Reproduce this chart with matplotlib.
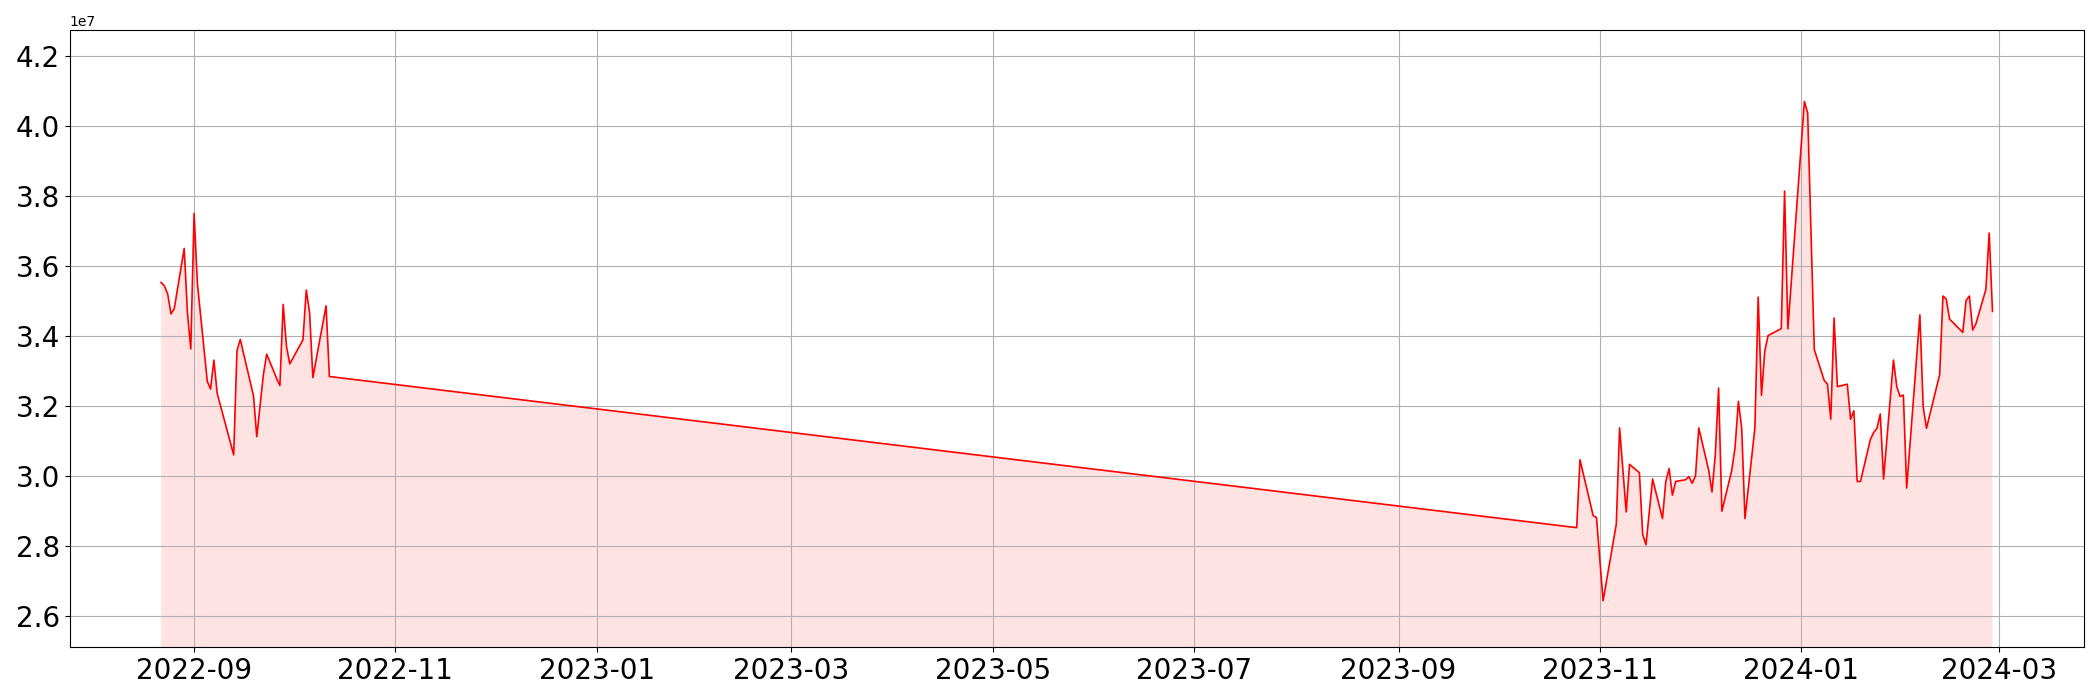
import matplotlib
matplotlib.use("Agg")
import matplotlib.pyplot as plt
import matplotlib.dates as mdates
import pandas as pd

dates = [
    "2022-08-22", "2022-08-23", "2022-08-24", "2022-08-25", "2022-08-26",
    "2022-08-29", "2022-08-30", "2022-08-31", "2022-09-01", "2022-09-02",
    "2022-09-05", "2022-09-06", "2022-09-07", "2022-09-08", "2022-09-13",
    "2022-09-14", "2022-09-15", "2022-09-19", "2022-09-20", "2022-09-22",
    "2022-09-23", "2022-09-26", "2022-09-27", "2022-09-28", "2022-09-29",
    "2022-09-30", "2022-10-04", "2022-10-05", "2022-10-06", "2022-10-07",
    "2022-10-11", "2022-10-12",
    "2023-10-25", "2023-10-26", "2023-10-30", "2023-10-31", "2023-11-02",
    "2023-11-06", "2023-11-07", "2023-11-09", "2023-11-10", "2023-11-13",
    "2023-11-14", "2023-11-15", "2023-11-17", "2023-11-20", "2023-11-21",
    "2023-11-22", "2023-11-23", "2023-11-24", "2023-11-27", "2023-11-28",
    "2023-11-29", "2023-11-30", "2023-12-01", "2023-12-04", "2023-12-05",
    "2023-12-06", "2023-12-07", "2023-12-08", "2023-12-11", "2023-12-12",
    "2023-12-13", "2023-12-14", "2023-12-15", "2023-12-18", "2023-12-19",
    "2023-12-20", "2023-12-21", "2023-12-22", "2023-12-26", "2023-12-27",
    "2023-12-28", "2024-01-02", "2024-01-03", "2024-01-05", "2024-01-08",
    "2024-01-09", "2024-01-10", "2024-01-11", "2024-01-12", "2024-01-15",
    "2024-01-16", "2024-01-17", "2024-01-18", "2024-01-19", "2024-01-22",
    "2024-01-23", "2024-01-24", "2024-01-25", "2024-01-26", "2024-01-29",
    "2024-01-30", "2024-01-31", "2024-02-01", "2024-02-02", "2024-02-06",
    "2024-02-07", "2024-02-08", "2024-02-12", "2024-02-13", "2024-02-14",
    "2024-02-15", "2024-02-19", "2024-02-20", "2024-02-21", "2024-02-22",
    "2024-02-23", "2024-02-26", "2024-02-27", "2024-02-28",
]

values = [
    3.553, 3.543, 3.520, 3.463, 3.478,
    3.650, 3.465, 3.363, 3.750, 3.550,
    3.270, 3.248, 3.331, 3.236, 3.060,
    3.358, 3.390, 3.229, 3.112, 3.289,
    3.348, 3.279, 3.258, 3.490, 3.370,
    3.320, 3.389, 3.531, 3.467, 3.281,
    3.486, 3.284,
    2.852, 3.046, 2.886, 2.881, 2.643,
    2.862, 3.137, 2.897, 3.033, 3.009,
    2.833, 2.803, 2.991, 2.878, 2.984,
    3.021, 2.945, 2.984, 2.989, 2.998,
    2.979, 3.000, 3.137, 3.016, 2.954,
    3.060, 3.251, 2.899, 3.016, 3.082,
    3.213, 3.137, 2.878, 3.137, 3.511,
    3.230, 3.357, 3.401, 3.421, 3.814,
    3.420, 4.070, 4.037, 3.361, 3.273,
    3.262, 3.162, 3.451, 3.255, 3.262,
    3.162, 3.186, 2.984, 2.984, 3.104,
    3.124, 3.136, 3.177, 2.991, 3.331,
    3.255, 3.227, 3.231, 2.965, 3.460,
    3.198, 3.136, 3.290, 3.514, 3.505,
    3.448, 3.410, 3.501, 3.514, 3.417,
    3.435, 3.533, 3.694, 3.470,
]

x = pd.to_datetime(dates)
y = [v * 1e7 for v in values]

fig = plt.figure(figsize=(21, 7), dpi=100)
ax = fig.add_axes([0.0331, 0.0757, 0.9593, 0.881])

ax.plot(x, y, color="red", linewidth=1.2)
ax.fill_between(x, y, color="red", alpha=0.11, linewidth=0)
ax.set_ylim(min(y) * 0.95, max(y) * 1.05)
ax.grid(True)
ax.xaxis.set_major_locator(mdates.MonthLocator(bymonth=[1, 3, 5, 7, 9, 11]))
ax.xaxis.set_major_formatter(mdates.DateFormatter("%Y-%m"))
ax.tick_params(labelsize=20)

fig.savefig("out.png", dpi=100)
